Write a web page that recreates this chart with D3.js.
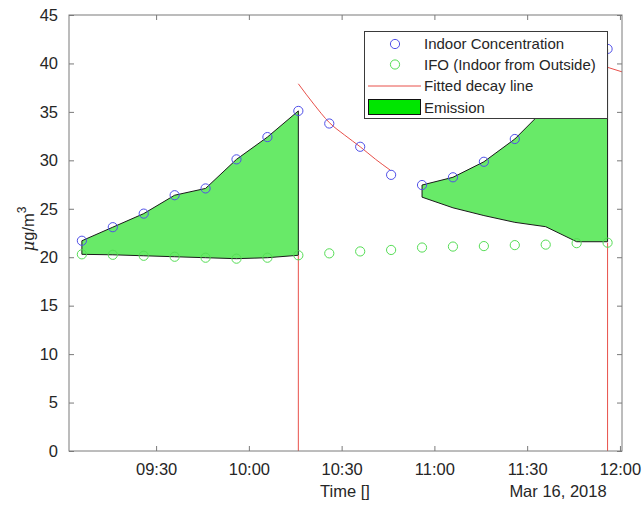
<!DOCTYPE html>
<html>
<head>
<meta charset="utf-8">
<script src="https://cdn.jsdelivr.net/npm/d3@7"></script>
<style>
  html, body { margin: 0; padding: 0; background: #fff; }
  svg { display: block; font-family: "Liberation Sans", Arial, sans-serif; }
</style>
</head>
<body>
<svg id="chart" width="644" height="506"></svg>
<script>
// ---- data ----
const sampleTimes = ["09:06","09:16","09:26","09:36","09:46","09:56","10:06","10:16","10:26","10:36",
                     "10:46","10:56","11:06","11:16","11:26","11:36","11:46","11:56"];
const indoorConc = [21.7, 23.1, 24.5, 26.4, 27.1, 30.1, 32.4, 35.1, 33.8, 31.4,
                    28.5, 27.45, 28.25, 29.85, 32.2, 35.4, 38.5, 41.5];
const ifoConc    = [20.3, 20.25, 20.15, 20.05, 19.95, 19.85, 19.95, 20.2, 20.4, 20.6,
                    20.75, 21.0, 21.1, 21.15, 21.25, 21.3, 21.45, 21.5];

// Emission period 1: between indoor and IFO
const emission1Times = ["09:06","09:16","09:26","09:36","09:46","09:56","10:06","10:16"];
// Emission period 2: between indoor and estimated decay baseline
const emission2Times = ["10:56","11:06","11:16","11:26","11:36","11:46","11:56"];
const emission2Base  = [26.2, 25.1, 24.3, 23.6, 23.15, 21.6, 21.6];

// Fitted decay lines
const decay1Times  = ["10:16","10:21","10:26","10:31","10:36","10:41","10:45:40"];
const decay1Values = [37.9, 35.8, 33.9, 32.6, 31.4, 30.1, 29.0];
const decay2Times  = ["11:56","12:06"];
const decay2Values = [39.6, 38.6];
// vertical drops of fitted line at decay starts
const dropTimes  = ["10:16","11:56"];
const dropValues = [20.2, 21.5];

const xTickTimes = ["09:30","10:00","10:30","11:00","11:30","12:00"];
const yTicks = [0,5,10,15,20,25,30,35,40,45];
const xDomain = ["09:01:50","12:00:40"];
const dateLabel = "Mar 16, 2018";

// ---- helpers ----
const parseT = s => {
  const p = s.split(":").map(Number);
  return new Date(2018, 2, 16, p[0], p[1], p[2] || 0);
};

const svg = d3.select("#chart");
const L = 69, R = 622, T = 15, B = 451;

const x = d3.scaleTime().domain(xDomain.map(parseT)).range([L, R]);
const y = d3.scaleLinear().domain([0, 45]).range([B, T]);

svg.append("defs").append("clipPath").attr("id","clip")
  .append("rect").attr("x", L).attr("y", T).attr("width", R - L).attr("height", B - T);

const plot = svg.append("g").attr("clip-path", "url(#clip)");

// Emission areas (polygons)
const idx = t => sampleTimes.indexOf(t);
const poly1 = emission1Times.map(t => [x(parseT(t)), y(indoorConc[idx(t)])])
  .concat(emission1Times.slice().reverse().map(t => [x(parseT(t)), y(ifoConc[idx(t)])]));
const poly2 = emission2Times.map(t => [x(parseT(t)), y(indoorConc[idx(t)])])
  .concat(emission2Times.map((t, i) => [x(parseT(t)), y(emission2Base[i])]).reverse());

const fillCol = "#68ea68";
[poly1, poly2].forEach(p => {
  plot.append("path")
    .attr("d", "M" + p.map(q => q.join(",")).join("L") + "Z")
    .attr("fill", fillCol)
    .attr("stroke", "#1a1a1a")
    .attr("stroke-width", 1)
    .attr("stroke-linejoin", "round");
});

// Fitted decay lines
const line = d3.line().x(d => x(d[0])).y(d => y(d[1])).curve(d3.curveMonotoneX);
const redCol = "#e8504a";
plot.append("path")
  .attr("d", line(decay1Times.map((t, i) => [parseT(t), decay1Values[i]])))
  .attr("fill", "none").attr("stroke", redCol).attr("stroke-width", 1);
plot.append("path")
  .attr("d", line(decay2Times.map((t, i) => [parseT(t), decay2Values[i]])))
  .attr("fill", "none").attr("stroke", redCol).attr("stroke-width", 1);
dropTimes.forEach((t, i) => {
  plot.append("line")
    .attr("x1", x(parseT(t))).attr("x2", x(parseT(t)))
    .attr("y1", y(0)).attr("y2", y(dropValues[i]))
    .attr("stroke", redCol).attr("stroke-width", 1);
});

// Markers
const blueCol = "#5050e8", greenCol = "#55dd55";
plot.selectAll("circle.ifo").data(sampleTimes).enter().append("circle")
  .attr("class","ifo")
  .attr("cx", t => x(parseT(t))).attr("cy", (t, i) => y(ifoConc[i]))
  .attr("r", 4.6).attr("fill", "none").attr("stroke", greenCol).attr("stroke-width", 1);
plot.selectAll("circle.ind").data(sampleTimes).enter().append("circle")
  .attr("class","ind")
  .attr("cx", t => x(parseT(t))).attr("cy", (t, i) => y(indoorConc[i]))
  .attr("r", 4.6).attr("fill", "none").attr("stroke", blueCol).attr("stroke-width", 1);

// Axes
const axCol = "#7a7a7a", txtCol = "#262626";
const tickLen = 5;
const gx = svg.append("g").attr("transform", `translate(0,${B})`)
  .call(d3.axisBottom(x).tickValues(xTickTimes.map(parseT)).tickFormat(d3.timeFormat("%H:%M"))
    .tickSizeInner(-tickLen).tickSizeOuter(0).tickPadding(12));
const gxt = svg.append("g").attr("transform", `translate(0,${T})`)
  .call(d3.axisTop(x).tickValues(xTickTimes.map(parseT)).tickFormat("")
    .tickSizeInner(-tickLen).tickSizeOuter(0));
const gy = svg.append("g").attr("transform", `translate(${L},0)`)
  .call(d3.axisLeft(y).tickValues(yTicks).tickFormat(d3.format("d"))
    .tickSizeInner(-tickLen).tickSizeOuter(0).tickPadding(11));
const gyr = svg.append("g").attr("transform", `translate(${R},0)`)
  .call(d3.axisRight(y).tickValues(yTicks).tickFormat("")
    .tickSizeInner(-tickLen).tickSizeOuter(0));
[gx, gxt, gy, gyr].forEach(g => {
  g.select(".domain").remove();
  g.selectAll(".tick line").attr("stroke", axCol);
  g.selectAll(".tick text").attr("fill", txtCol).style("font-size", "16.5px")
    .style("font-family", '"Liberation Sans", Arial, sans-serif');
});
svg.append("rect").attr("x", L).attr("y", T).attr("width", R - L).attr("height", B - T)
  .attr("fill", "none").attr("stroke", axCol).attr("stroke-width", 1);

// Axis labels
svg.append("text").attr("x", 345).attr("y", 497).attr("text-anchor", "middle")
  .attr("fill", txtCol).style("font-size", "16.5px").text("Time []");
svg.append("text").attr("x", 558).attr("y", 497).attr("text-anchor", "middle")
  .attr("fill", txtCol).style("font-size", "16.5px").text(dateLabel);
const yl = svg.append("text").attr("transform", "translate(34,229) rotate(-90)")
  .attr("text-anchor", "middle").attr("fill", txtCol).style("font-size", "16.5px");
yl.append("tspan").style("font-family", '"DejaVu Serif", serif').style("font-style", "italic").text("\u03bc");
yl.append("tspan").text("g/m");
yl.append("tspan").attr("dy", -8).style("font-size", "12px").text("3");

// Legend
const lg = svg.append("g");
lg.append("rect").attr("x", 364.5).attr("y", 31.5).attr("width", 243).attr("height", 87)
  .attr("fill", "#fff").attr("stroke", "#3a3a3a").attr("stroke-width", 1);
const rows = [44, 64.5, 86, 107.5];
const labels = ["Indoor Concentration", "IFO (Indoor from Outside)", "Fitted decay line", "Emission"];
lg.append("circle").attr("cx", 395).attr("cy", rows[0]).attr("r", 4.6)
  .attr("fill", "none").attr("stroke", blueCol);
lg.append("circle").attr("cx", 395).attr("cy", rows[1]).attr("r", 4.6)
  .attr("fill", "none").attr("stroke", greenCol);
lg.append("line").attr("x1", 368).attr("x2", 421).attr("y1", rows[2]).attr("y2", rows[2])
  .attr("stroke", redCol);
lg.append("rect").attr("x", 368.5).attr("y", 99.5).attr("width", 52).attr("height", 15)
  .attr("fill", "#00e600").attr("stroke", "#111");
labels.forEach((t, i) => {
  lg.append("text").attr("x", 424).attr("y", rows[i]).attr("dy", "0.36em")
    .attr("fill", txtCol).style("font-size", "15px").text(t);
});
</script>
</body>
</html>
